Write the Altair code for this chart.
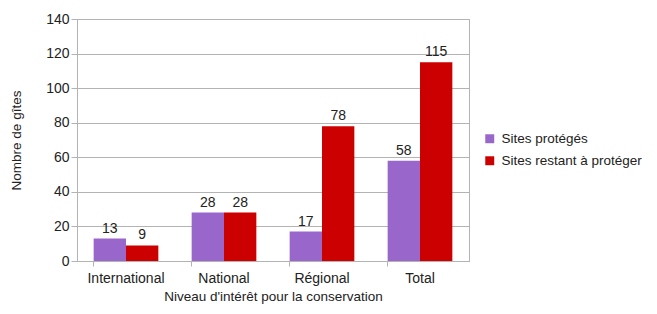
import altair as alt
import pandas as pd

categories = ["International", "National", "Régional", "Total"]
series = ["Sites protégés", "Sites restant à protéger"]
protected = [13, 28, 17, 58]
remaining = [9, 28, 78, 115]
colors = ["#9966cc", "#cc0000"]

rows = []
for i, c in enumerate(categories):
    rows.append({"cat": c, "serie": series[0], "val": protected[i]})
    rows.append({"cat": c, "serie": series[1], "val": remaining[i]})
df = pd.DataFrame(rows)

FONT = "Liberation Sans"

x = alt.X("cat:N", sort=categories,
          scale=alt.Scale(paddingInner=0.34, paddingOuter=0.17),
          axis=alt.Axis(title="Niveau d'intérêt pour la conservation", labelAngle=0,
                        bandPosition=0, tickSize=5, labelPadding=5,
                        titlePadding=4, domainColor="#b3b3b3", tickColor="#b3b3b3"))
y = alt.Y("val:Q", scale=alt.Scale(domain=[0, 140]),
          axis=alt.Axis(title="Nombre de gîtes", values=list(range(0, 141, 20)),
                        tickSize=6, labelPadding=2, gridColor="#b3b3b3",
                        domainColor="#b3b3b3", tickColor="#b3b3b3",
                        titleX=-54, titleY=121, titleAlign="center"))
xo = alt.XOffset("serie:N", sort=series)
color = alt.Color("serie:N", sort=series, scale=alt.Scale(domain=series, range=colors),
                  legend=alt.Legend(title=None, orient="none", legendX=406, legendY=113,
                                    symbolType="square", symbolSize=80, rowPadding=7,
                                    labelFontSize=13.5, labelFont=FONT, labelColor="#222222",
                                    symbolStrokeWidth=0, labelOffset=5))

bars = alt.Chart(df).mark_bar().encode(x=x, y=y, xOffset=xo, color=color)
texts = alt.Chart(df).mark_text(baseline="bottom", dy=-3, fontSize=14, font=FONT, color="#222222").encode(
    x=x, y=y, xOffset=xo, text="val:Q")

chart = (bars + texts).properties(
    width=392, height=242,
    background="white",
    autosize=alt.AutoSizeParams(type="none"),
    padding={"left": 69, "top": 11, "right": 180, "bottom": 45},
).configure_view(stroke="#b3b3b3").configure_axis(
    labelFont=FONT, titleFont=FONT, labelFontSize=14, titleFontSize=13.5,
    labelColor="#222222", titleColor="#222222", titleFontWeight="normal"
)

chart.save("out.html", embed_options={"renderer": "svg", "actions": False})
